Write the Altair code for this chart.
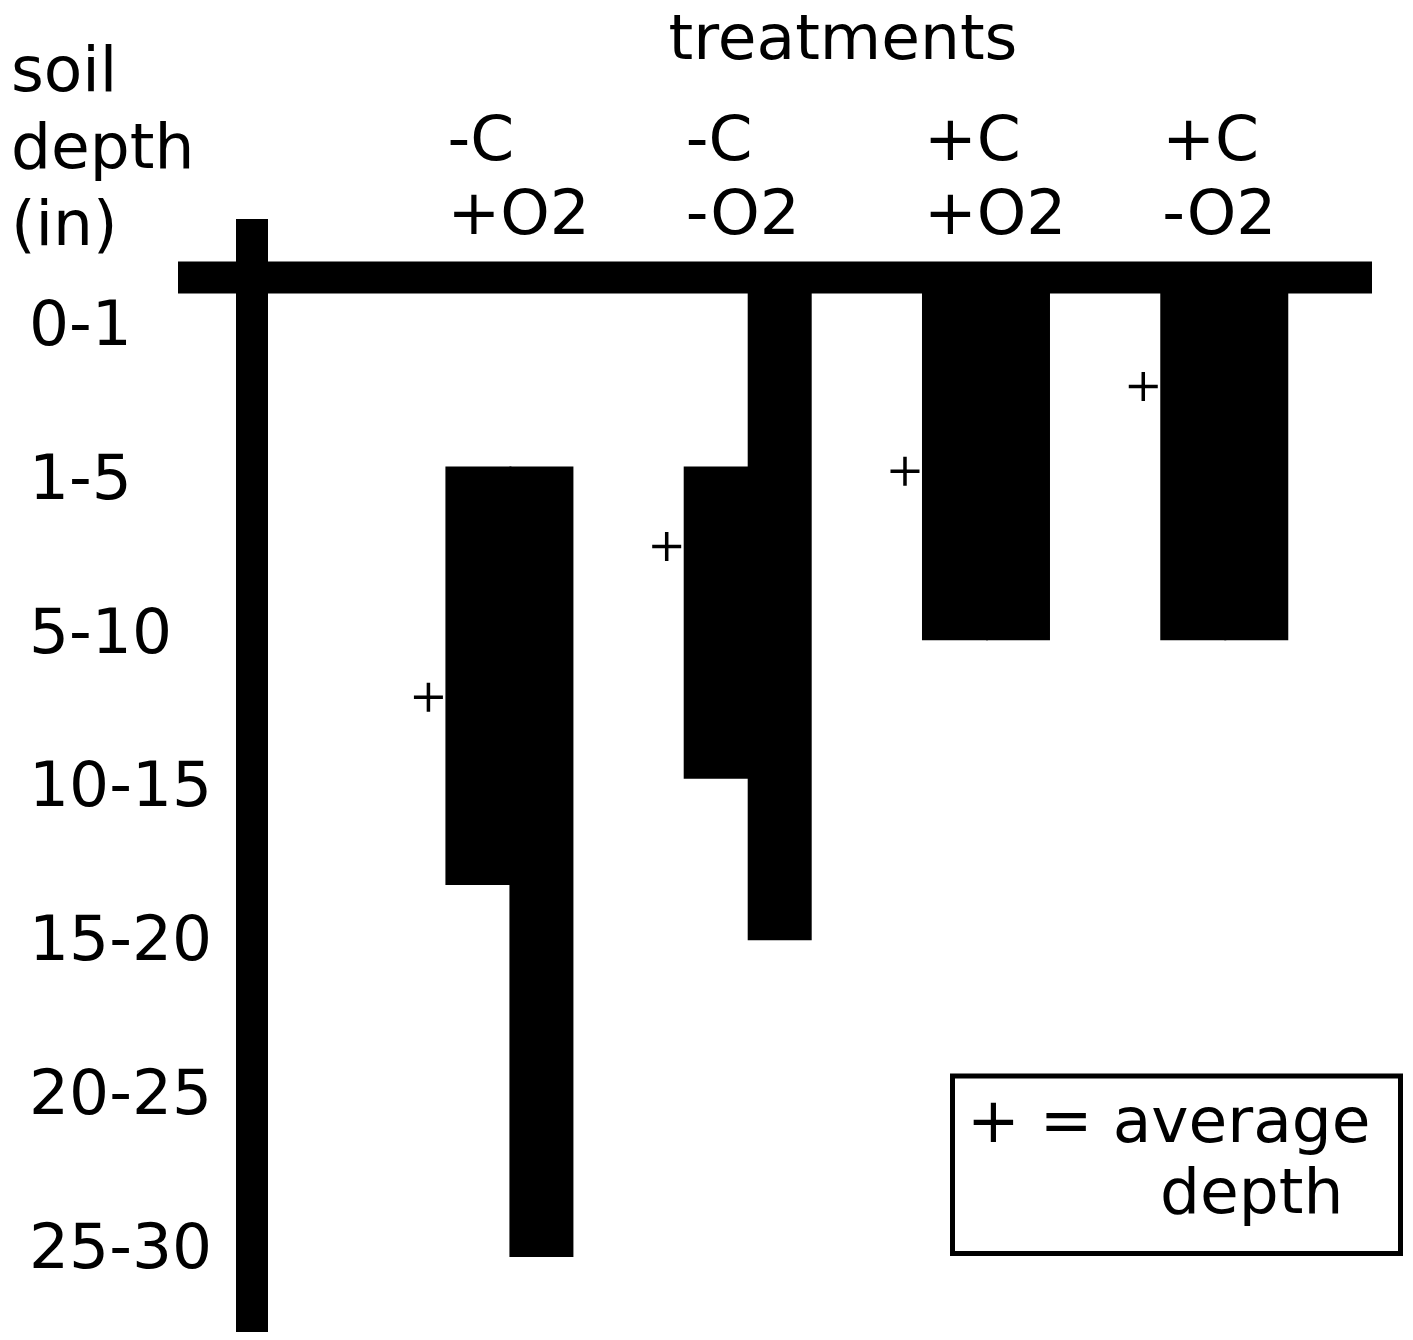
import altair as alt
import pandas as pd

# ---- data (depth in "row" units: 0 = "0-1" row, 1 = "1-5" row, ...) ----
treat_index = [0, 1, 2, 3]
treat_c = ["-C", "-C", "+C", "+C"]
treat_o2 = ["+O2", "-O2", "+O2", "-O2"]

depth_labels = ["0-1", "1-5", "5-10", "10-15", "15-20", "20-25", "25-30"]
depth_rows = [0, 1, 2, 3, 4, 5, 6]

surface = [-0.29]  # soil surface line

left_top = [0.94, 0.94, -0.29, -0.29]
left_bottom = [3.66, 2.97, 2.07, 2.07]
right_top = [0.94, -0.29, -0.29, -0.29]
right_bottom = [6.08, 4.02, 2.07, 2.07]

avg_depth = [2.44, 1.46, 0.97, 0.42]

title_text = "treatments"
ylab_lines = ["soil", "depth", "(in)"]
legend_line1 = "+ = average"
legend_line2 = "depth"

# ---- tables ----
treat_df = pd.DataFrame({
    "t": treat_index,
    "header": [c + "\n" + o for c, o in zip(treat_c, treat_o2)],
    "lt": left_top, "lb": left_bottom,
    "rt": right_top, "rb": right_bottom,
    "avg": avg_depth,
})
depth_df = pd.DataFrame({"label": depth_labels, "row": depth_rows})
surf_df = pd.DataFrame({"depth": surface})
one = pd.DataFrame({"a": [0]})

FONT = "DejaVu Sans"
FS = 63
W, H = 1397, 1324

xs = alt.Scale(domain=[-500 / 240, 897 / 240], nice=False, zero=False)
ys = alt.Scale(domain=[-314 / 153.8, 1010 / 153.8], nice=False, zero=False, reverse=True)

X = alt.X("t:Q", scale=xs, axis=None)

# left half slightly overlaps the centre so no seam shows between halves
left_bars = alt.Chart(treat_df).mark_bar(width=66, xOffset=-31, color="black").encode(
    x=X, y=alt.Y("lt:Q", scale=ys, axis=None), y2="lb:Q")
right_bars = alt.Chart(treat_df).mark_bar(width=64, xOffset=32, color="black").encode(
    x=X, y=alt.Y("rt:Q", scale=ys, axis=None), y2="rb:Q")

avg_marks = alt.Chart(treat_df).mark_point(
    shape="M-1,0H1M0,-1V1", size=841, filled=False, color="black",
    strokeWidth=3.5, opacity=1, xOffset=-81).encode(
    x=X, y=alt.Y("avg:Q", scale=ys, axis=None))

headers = alt.Chart(treat_df).mark_text(
    align="left", baseline="alphabetic", dx=-62, lineBreak="\n", lineHeight=74,
    font=FONT, fontSize=FS, color="black").encode(
    x=X, y=alt.value(152), text="header:N")

depth_text = alt.Chart(depth_df).mark_text(
    align="left", baseline="middle", dy=4, font=FONT, fontSize=FS, color="black").encode(
    x=alt.value(21), y=alt.Y("row:Q", scale=ys, axis=None), text="label:N")

surface_line = alt.Chart(surf_df).mark_rule(strokeWidth=32, color="black").encode(
    y=alt.Y("depth:Q", scale=ys, axis=None), x=alt.value(170), x2=alt.value(1364))

vert_line = alt.Chart(one).mark_rule(strokeWidth=32, color="black").encode(
    x=alt.value(244), y=alt.value(211), y2=alt.value(H))

title = alt.Chart(one).mark_text(
    text=title_text, align="center", baseline="alphabetic",
    font=FONT, fontSize=FS, color="black").encode(x=alt.value(835), y=alt.value(51))

ylab = alt.Chart(one).mark_text(
    text=ylab_lines, align="left", baseline="alphabetic", lineHeight=77,
    font=FONT, fontSize=FS, color="black").encode(x=alt.value(3), y=alt.value(83))

legend_box = alt.Chart(one).mark_rect(
    fillOpacity=0, stroke="black", strokeWidth=5).encode(
    x=alt.value(944.5), x2=alt.value(1392.5), y=alt.value(1068), y2=alt.value(1245.5))

legend_t1 = alt.Chart(one).mark_text(
    text=legend_line1, align="left", baseline="alphabetic",
    font=FONT, fontSize=FS, color="black").encode(x=alt.value(959), y=alt.value(1134))
legend_t2 = alt.Chart(one).mark_text(
    text=legend_line2, align="left", baseline="alphabetic",
    font=FONT, fontSize=FS, color="black").encode(x=alt.value(1152), y=alt.value(1205))

chart = alt.layer(
    left_bars, right_bars, surface_line, vert_line, avg_marks, headers,
    depth_text, title, ylab, legend_box, legend_t1, legend_t2,
).properties(
    width=W, height=H, padding=0,
    autosize=alt.AutoSizeParams(type="none"),
).configure_view(stroke=None)

chart.save("out.html", embed_options={"renderer": "svg", "actions": False})
